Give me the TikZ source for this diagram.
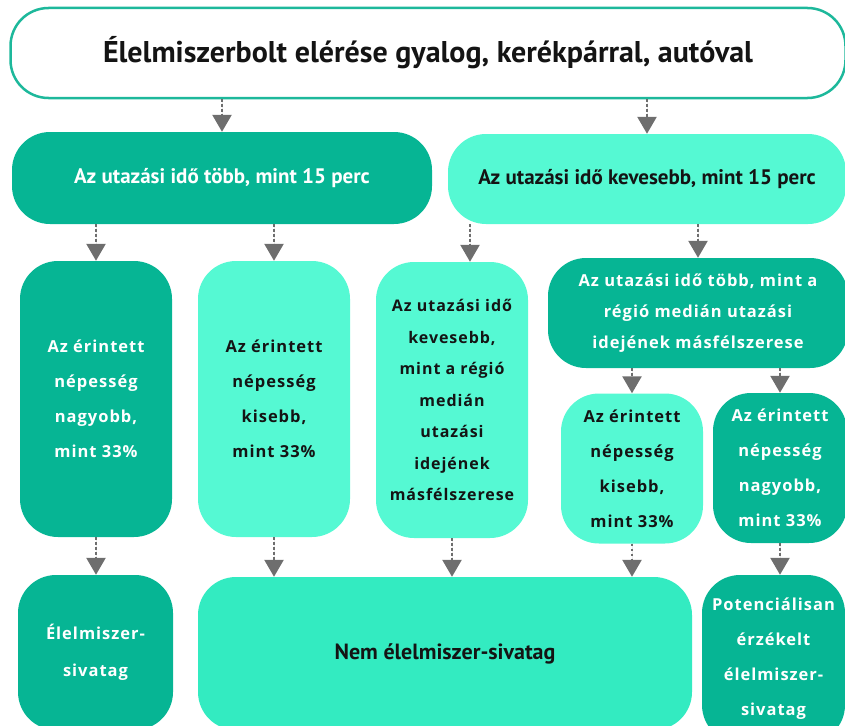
\documentclass[tikz,border=0pt]{standalone}
\usepackage{fontspec}
\usepackage{xcolor}
\usetikzlibrary{arrows.meta}
\newfontfamily\keskeny{PT Sans}
\newfontfamily\szeles[LetterSpace=6]{Open Sans}
\definecolor{sotet}{HTML}{06B594}
\definecolor{vilagos}{HTML}{55F9D3}
\definecolor{kozep}{HTML}{33EBC1}
\definecolor{keret}{HTML}{1DB89B}
\definecolor{nyilszin}{HTML}{6E6E6E}
\definecolor{szoveg}{HTML}{141414}

\begin{document}
\begin{tikzpicture}[x=1pt, y=-1pt, line cap=butt,
  doboz/.style={rounded corners=38pt, align=center, inner sep=0pt},
  sotetdoboz/.style={doboz, fill=sotet, text=white},
  vilagosdoboz/.style={doboz, fill=vilagos, text=szoveg},
  szeles16/.style={font=\szeles\bfseries\fontsize{16.5}{35}\selectfont},
  nyil/.style={-{Triangle[length=17pt,width=19pt]}, draw=nyilszin, fill=nyilszin,
    line width=2.5pt, dash pattern=on 2.5pt off 2.5pt}]

\useasboundingbox (0,0) rectangle (845,725);
\clip (0,0) rectangle (845,725);

% Felso doboz
\node[doboz, fill=white, draw=keret, line width=2.5pt, minimum width=835pt, minimum height=90pt,
  font=\keskeny\bfseries\fontsize{30}{32}\selectfont, text=szoveg]
  (felso) at (428,53) {Élelmiszerbolt elérése gyalog, kerékpárral, autóval};

% Utazasi ido
\node[sotetdoboz, minimum width=420pt, minimum height=92pt,
  font=\keskeny\bfseries\fontsize{21}{24}\selectfont] (tobb) at (222,178)
  {Az utazási idő több, mint 15 perc};
\node[vilagosdoboz, minimum width=398pt, minimum height=90pt,
  font=\keskeny\bfseries\fontsize{21}{24}\selectfont] (kevesebb) at (647,179)
  {Az utazási idő kevesebb, mint 15 perc};

% Masodik sor
\node[sotetdoboz, szeles16, minimum width=152pt, minimum height=276pt] (nagyobbA) at (96,399)
  {Az érintett\\népesség\\nagyobb,\\mint 33\%};
\node[vilagosdoboz, szeles16, minimum width=152pt, minimum height=276pt] (kisebbA) at (274,399)
  {Az érintett\\népesség\\kisebb,\\mint 33\%};
\node[vilagosdoboz, minimum width=152pt, minimum height=276pt,
  font=\szeles\bfseries\fontsize{16}{31.5}\selectfont] (median) at (452,400)
  {Az utazási idő\\kevesebb,\\mint a régió\\medián\\utazási\\idejének\\másfélszerese};
\node[sotetdoboz, minimum width=300pt, minimum height=110pt,
  font=\szeles\bfseries\fontsize{16.5}{31}\selectfont] (masfel) at (698,313)
  {Az utazási idő több, mint a\\régió medián utazási\\idejének másfélszerese};

% Harmadik sor
\node[vilagosdoboz, szeles16, minimum width=142pt, minimum height=150pt] (kisebbB) at (632,468.5)
  {Az érintett\\népesség\\kisebb,\\mint 33\%};
\node[sotetdoboz, szeles16, minimum width=134pt, minimum height=150pt] (nagyobbB) at (780,468)
  {Az érintett\\népesség\\nagyobb,\\mint 33\%};

% Eredmenyek
\node[sotetdoboz, font=\szeles\bfseries\fontsize{16.5}{37}\selectfont,
  minimum width=155pt, minimum height=155pt] (sivatag) at (95.5,652.5)
  {Élelmiszer-\\sivatag};
\node[doboz, fill=kozep, text=szoveg, minimum width=494pt, minimum height=153pt,
  font=\keskeny\bfseries\fontsize{22}{26}\selectfont] (nemsivatag) at (445,653.5)
  {Nem élelmiszer-sivatag};
\node[sotetdoboz, szeles16, minimum width=143pt, minimum height=168pt] (potencialis) at (773.5,659)
  {Potenciálisan\\érzékelt\\élelmiszer-\\sivatag};

% Nyilak
\draw[nyil] (felso.south -| tobb.north) -- (tobb.north);
\draw[nyil] (felso.south -| kevesebb.north) -- (kevesebb.north);
\draw[nyil] (tobb.south -| nagyobbA.north) -- (nagyobbA.north);
\draw[nyil] (tobb.south -| kisebbA.north) -- (kisebbA.north);
\draw[nyil] ([xshift=18pt]median.north |- kevesebb.south) -- ([xshift=18pt]median.north);
\draw[nyil] (kevesebb.south -| masfel.north) -- (masfel.north);
\draw[nyil] (masfel.south -| kisebbB.north) -- (kisebbB.north);
\draw[nyil] (masfel.south -| nagyobbB.north) -- (nagyobbB.north);
\draw[nyil] (nagyobbA.south) -- (sivatag.north -| nagyobbA.south);
\draw[nyil] (kisebbA.south) -- (nemsivatag.north -| kisebbA.south);
\draw[nyil] (median.south) -- (nemsivatag.north -| median.south);
\draw[nyil] (kisebbB.south) -- (nemsivatag.north -| kisebbB.south);
\draw[nyil] (nagyobbB.south) -- (potencialis.north -| nagyobbB.south);

\end{tikzpicture}
\end{document}
